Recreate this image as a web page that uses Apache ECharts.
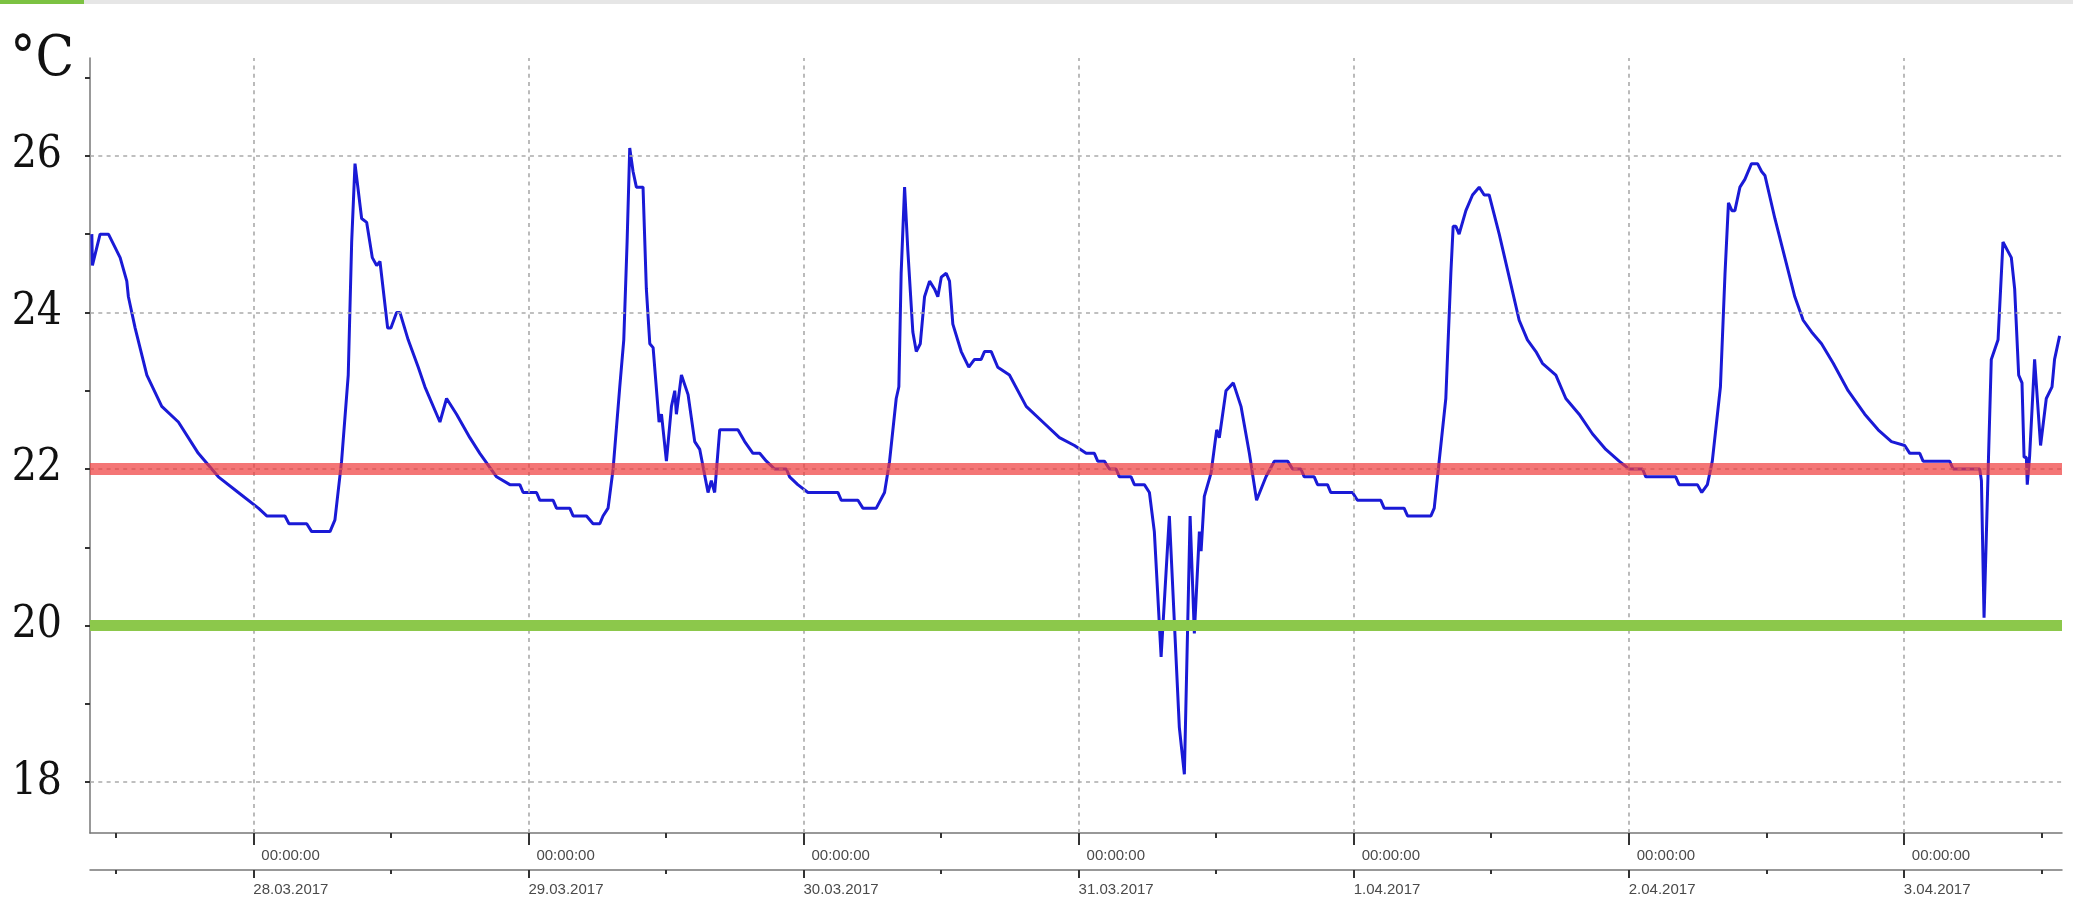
<!DOCTYPE html>
<html>
<head>
<meta charset="utf-8">
<script src="https://cdn.jsdelivr.net/npm/echarts@6/dist/echarts.min.js"></script>
<style>
html,body{margin:0;padding:0;background:#fff;}
#chart{width:2073px;height:900px;}
</style>
</head>
<body>
<div id="chart"></div>
<script>
// Hours since 27.03.2017 00:00
const hours = [
  9.91, 9.96, 10.63, 11.36, 12.38, 12.96, 13.1, 13.69, 14.71, 16.01, 17.46, 19.2, 20.95, 22.69,
  24.44, 25.17, 26.76, 27.11, 28.66, 29.09, 30.69, 31.12, 31.7, 32.28, 32.58, 32.87, 33.45, 33.89,
  34.38, 34.76, 35.05, 35.72, 36.0, 36.5, 36.79, 37.51, 38.39, 38.97,
  40.28, 40.86, 41.73, 42.89, 43.76, 45.22, 46.38, 47.25, 47.54, 48.71, 49.0, 50.16, 50.45, 51.61,
  51.9, 53.07, 53.64, 54.23, 54.51, 54.95, 55.39, 55.97, 56.32, 56.61, 56.84, 57.13, 57.42, 58.0,
  58.29, 58.59, 58.88, 59.4, 59.61, 60.04, 60.48, 60.77, 60.91, 61.35, 61.93, 62.51, 62.95, 63.67,
  63.96, 64.25, 64.69, 66.28, 66.87, 67.59, 68.18,
  68.76, 69.48, 70.5, 70.79, 71.5, 72.39, 75.0, 75.3, 76.75, 77.18, 78.35, 79.07, 79.51, 80.09,
  80.32, 80.52, 80.82, 81.1, 81.54, 81.84, 82.19, 82.56, 83.0, 83.43, 83.72, 84.02, 84.45, 84.74,
  85.03, 85.76, 86.42, 86.92, 87.5, 87.79, 88.38, 88.95, 89.97, 91.43, 92.88, 94.33, 95.64,
  96.66, 97.38, 97.67, 98.25, 98.69, 99.27, 99.56, 100.58, 100.87, 101.74, 102.18, 102.61, 103.2,
  103.92, 104.79, 105.23, 105.73, 106.1, 106.54, 106.69, 106.97, 107.56, 108.05, 108.28, 108.86,
  109.5, 110.17, 110.9, 111.53, 112.35, 113.08, 114.24, 114.67, 115.4, 115.69, 116.56, 116.85,
  117.72, 118.0, 119.9, 120.33, 122.37, 122.66, 124.4, 124.7,
  126.74, 127.03, 127.46, 128.04, 128.48, 128.68, 128.92, 129.2, 129.79, 130.37, 130.95, 131.39,
  131.82, 132.7, 133.57, 134.44, 135.16, 135.9, 136.47, 137.64, 138.51, 139.67, 140.83, 142.0,
  143.16, 144.03, 145.2, 145.49, 148.1, 148.39, 149.99, 150.37, 150.86, 151.29, 152.0, 152.4,
  152.7, 153.0,
  153.26, 153.7, 154.13, 154.71, 155.24, 155.59, 155.88, 156.75, 157.62, 158.49, 159.22, 159.95,
  160.82, 161.84, 163.14, 164.59, 165.76, 166.92, 168.08, 168.52, 169.39, 169.68, 172.0, 172.3,
  174.62, 174.77, 175.0, 175.35, 175.63, 176.22, 176.65, 177.38, 177.67, 178.02, 178.31, 178.49,
  178.69, 178.77, 178.97, 179.41, 179.93, 180.43, 180.93, 181.15, 181.59
];
const temps = [
  25.0, 24.6, 25.0, 25.0, 24.7, 24.4, 24.2, 23.8, 23.2, 22.8, 22.6, 22.2, 21.9, 21.7,
  21.5, 21.4, 21.4, 21.3, 21.3, 21.2, 21.2, 21.35, 22.1, 23.2, 24.9, 25.9, 25.2, 25.15,
  24.7, 24.6, 24.65, 23.8, 23.8, 24.0, 24.0, 23.65, 23.3, 23.05,
  22.6, 22.9, 22.7, 22.4, 22.2, 21.9, 21.8, 21.8, 21.7, 21.7, 21.6, 21.6, 21.5, 21.5,
  21.4, 21.4, 21.3, 21.3, 21.4, 21.5, 22.0, 23.05, 23.65, 24.9, 26.1, 25.8, 25.6, 25.6,
  24.3, 23.6, 23.55, 22.6, 22.7, 22.1, 22.8, 23.0, 22.7, 23.2, 22.95, 22.35, 22.25, 21.7,
  21.85, 21.7, 22.5, 22.5, 22.35, 22.2, 22.2,
  22.1, 22.0, 22.0, 21.9, 21.8, 21.7, 21.7, 21.6, 21.6, 21.5, 21.5, 21.7, 22.1, 22.9,
  23.05, 24.5, 25.6, 24.8, 23.75, 23.5, 23.6, 24.2, 24.4, 24.3, 24.2, 24.45, 24.5, 24.4,
  23.85, 23.5, 23.3, 23.4, 23.4, 23.5, 23.5, 23.3, 23.2, 22.8, 22.6, 22.4, 22.3,
  22.2, 22.2, 22.1, 22.1, 22.0, 22.0, 21.9, 21.9, 21.8, 21.8, 21.7, 21.2, 19.6,
  21.4, 18.7, 18.1, 21.4, 19.9, 21.2, 20.95, 21.65, 21.95, 22.5, 22.4, 23.0,
  23.1, 22.8, 22.2, 21.6, 21.9, 22.1, 22.1, 22.0, 22.0, 21.9, 21.9, 21.8,
  21.8, 21.7, 21.7, 21.6, 21.6, 21.5, 21.5, 21.4,
  21.4, 21.5, 22.1, 22.9, 24.5, 25.1, 25.1, 25.0, 25.3, 25.5, 25.6, 25.5,
  25.5, 25.0, 24.45, 23.9, 23.65, 23.5, 23.35, 23.2, 22.9, 22.7, 22.45, 22.25,
  22.1, 22.0, 22.0, 21.9, 21.9, 21.8, 21.8, 21.7, 21.8, 22.1, 23.05, 24.5,
  25.4, 25.3,
  25.3, 25.6, 25.7, 25.9, 25.9, 25.8, 25.75, 25.2, 24.7, 24.2, 23.9, 23.75,
  23.6, 23.35, 23.0, 22.7, 22.5, 22.35, 22.3, 22.2, 22.2, 22.1, 22.1, 22.0,
  22.0, 21.85, 20.1, 21.95, 23.4, 23.65, 24.9, 24.7, 24.3, 23.2, 23.1, 22.15,
  22.15, 21.8, 22.15, 23.4, 22.3, 22.9, 23.05, 23.4, 23.7
];
const midnights = [24, 48, 72, 96, 120, 144, 168];
const noons = [12, 36, 60, 84, 108, 132, 156, 180];
const dateLabels = ['28.03.2017', '29.03.2017', '30.03.2017', '31.03.2017', '1.04.2017', '2.04.2017', '3.04.2017'];
const timeLabel = '00:00:00';
const yTicks = [18, 19, 20, 21, 22, 23, 24, 25, 26, 27];
const yLabels = [18, 20, 22, 24, 26];
const upperLimit = 22;
const lowerLimit = 20;
const xMin = 9.75, xMax = 181.8;
const yMin = 17.35, yMax = 27.25;

const serif = "'DejaVu Serif Condensed', 'DejaVu Serif', serif";
const sans = "'Liberation Sans', Arial, sans-serif";

const chart = echarts.init(document.getElementById('chart'));
const axisLineStyle = {color: '#777', width: 1.5};
const tickStyle = {color: '#333', width: 2};

const baseX = {
  type: 'value', min: xMin, max: xMax, position: 'bottom',
  splitLine: {show: false}
};

chart.setOption({
  animation: false,
  backgroundColor: '#fff',
  graphic: [
    {type: 'rect', left: 0, top: 0, shape: {width: 84, height: 4}, style: {fill: '#7cc242'}},
    {type: 'rect', left: 84, top: 0, shape: {width: 1989, height: 4}, style: {fill: '#e6e6e6'}}
  ],
  grid: {left: 90, right: 11, top: 58, bottom: 67, containLabel: false},
  xAxis: [
    Object.assign({}, baseX, {
      offset: 0,
      axisLine: {show: true, lineStyle: axisLineStyle},
      axisTick: {show: true, length: 5, customValues: noons, lineStyle: tickStyle},
      axisLabel: {
        customValues: midnights, formatter: () => timeLabel, align: 'left',
        padding: [0, 0, 0, 8], margin: 15, fontSize: 15, color: '#4a4a4a', fontFamily: sans
      }
    }),
    Object.assign({}, baseX, {
      offset: 37,
      axisLine: {show: true, lineStyle: axisLineStyle},
      axisTick: {show: true, length: 4, customValues: noons, lineStyle: tickStyle},
      axisLabel: {
        customValues: midnights,
        formatter: v => dateLabels[midnights.indexOf(Math.round(v))] || '',
        align: 'left', padding: [0, 0, 0, 0], margin: 12, fontSize: 15, color: '#4a4a4a', fontFamily: sans
      }
    }),
    Object.assign({}, baseX, {
      offset: 0,
      axisLine: {show: false},
      axisTick: {show: true, length: 12, customValues: midnights, lineStyle: tickStyle},
      axisLabel: {show: false}
    }),
    Object.assign({}, baseX, {
      offset: 37,
      axisLine: {show: false},
      axisTick: {show: true, length: 8, customValues: midnights, lineStyle: tickStyle},
      axisLabel: {show: false}
    })
  ],
  yAxis: {
    type: 'value', min: yMin, max: yMax,
    name: '°C', nameLocation: 'end', nameGap: -2,
    nameTextStyle: {fontFamily: serif, fontSize: 56, color: '#111', align: 'right', verticalAlign: 'middle', padding: [0, 16, 0, 0]},
    axisLine: {show: true, lineStyle: axisLineStyle},
    axisTick: {show: true, length: 5, customValues: yTicks, lineStyle: tickStyle},
    axisLabel: {customValues: yLabels, margin: 28, fontFamily: serif, fontSize: 44, color: '#111'},
    splitLine: {show: false}
  },
  series: [
    {
      type: 'line', data: [], xAxisIndex: 0, yAxisIndex: 0, z: 1, silent: true,
      markLine: {
        silent: true, symbol: 'none', animation: false, label: {show: false},
        lineStyle: {type: [4, 4.3], color: '#aaa', width: 1.6},
        data: yLabels.map(v => ({yAxis: v})).concat(midnights.map(v => ({xAxis: v})))
      }
    },
    {
      type: 'line', data: [], xAxisIndex: 0, yAxisIndex: 0, z: 2, silent: true,
      markLine: {
        silent: true, symbol: 'none', animation: false, label: {show: false},
        data: [
          {yAxis: upperLimit, lineStyle: {type: 'solid', color: 'rgba(240,60,60,0.7)', width: 12}},
          {yAxis: lowerLimit, lineStyle: {type: 'solid', color: '#8cc84b', width: 11}}
        ]
      }
    },
    {
      type: 'line', xAxisIndex: 0, yAxisIndex: 0, z: 3,
      data: hours.map((h, i) => [h, temps[i]]),
      showSymbol: false, symbol: 'none', smooth: false,
      lineStyle: {color: '#1a1ad6', width: 3},
      itemStyle: {color: '#1a1ad6'}
    }
  ]
});
</script>
</body>
</html>
